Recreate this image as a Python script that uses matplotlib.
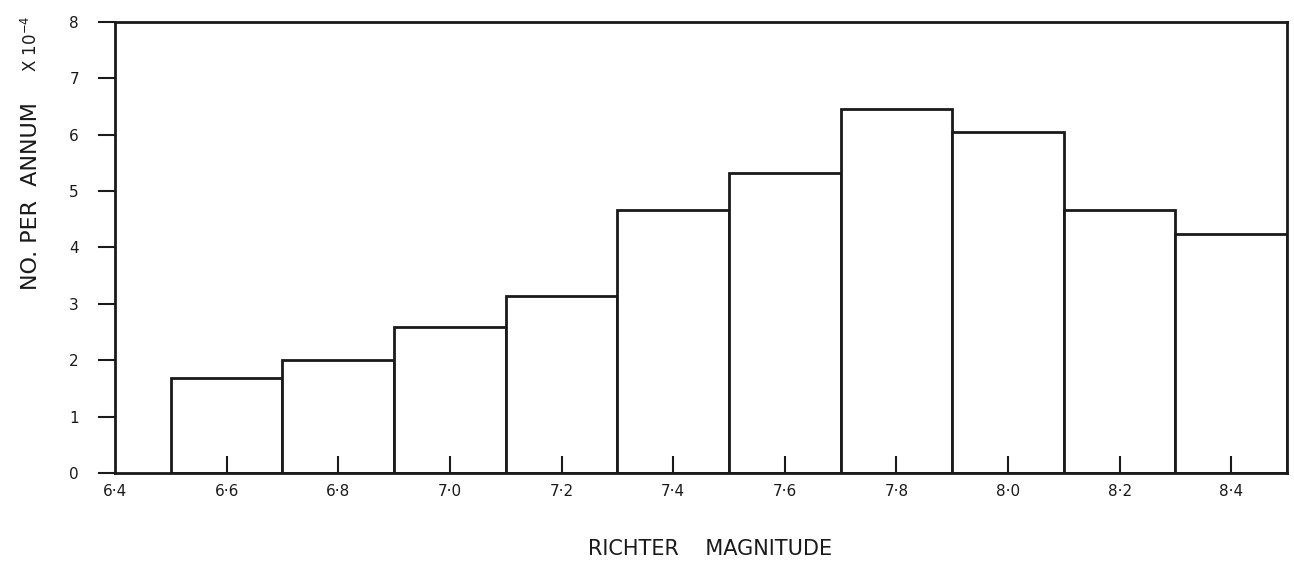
import matplotlib
matplotlib.use("Agg")
import matplotlib.pyplot as plt

# bin edges (Richter magnitude) and annual counts (x 10^-4)
bin_left = [6.5, 6.7, 6.9, 7.1, 7.3, 7.5, 7.7, 7.9, 8.1, 8.3]
counts = [1.68, 2.01, 2.59, 3.14, 4.67, 5.32, 6.46, 6.05, 4.67, 4.24]
bin_width = 0.2

x_ticks = [6.4, 6.6, 6.8, 7.0, 7.2, 7.4, 7.6, 7.8, 8.0, 8.2, 8.4]
x_labels = ["6·4", "6·6", "6·8", "7·0", "7·2", "7·4", "7·6", "7·8", "8·0", "8·2", "8·4"]
y_ticks = [0, 1, 2, 3, 4, 5, 6, 7, 8]

plt.rcParams['font.family'] = ['DejaVu Sans']
ink = '#1a1a1a'

fig = plt.figure(figsize=(12.94, 5.78), dpi=100)
ax = fig.add_axes([0.0889, 0.1817, 0.9057, 0.7803])

ax.bar(bin_left, counts, width=bin_width, align='edge',
       facecolor='white', edgecolor=ink, linewidth=2.0)

ax.set_xlim(6.4, 8.5)
ax.set_ylim(0, 8)

for s in ax.spines.values():
    s.set_linewidth(2.0)
    s.set_color(ink)

# x ticks point inwards; 6.4 sits at the corner without a tick mark
ax.set_xticks(x_ticks[1:])
ax.set_xticklabels(x_labels[1:], fontsize=11)
ax.tick_params(axis='x', direction='in', length=12, width=1.5, pad=8, colors=ink)
ax.annotate(x_labels[0], xy=(x_ticks[0], 0), xytext=(0, -8), textcoords='offset points',
            ha='center', va='top', fontsize=11, color=ink)

ax.set_yticks(y_ticks)
ax.set_yticklabels([str(v) for v in y_ticks], fontsize=11)
ax.tick_params(axis='y', direction='out', length=12, width=1.5, pad=14, colors=ink)

fig.text(0.024, 0.66, "NO. PER  ANNUM", rotation=90, fontsize=16,
         ha='center', va='center', color=ink)
fig.text(0.024, 0.925, r"X 10$^{-4}$", rotation=90, fontsize=12,
         ha='center', va='center', color=ink)
fig.text(0.549, 0.05, "RICHTER    MAGNITUDE", fontsize=15,
         ha='center', va='center', color=ink)

fig.savefig("out.png", dpi=100, facecolor='white')
